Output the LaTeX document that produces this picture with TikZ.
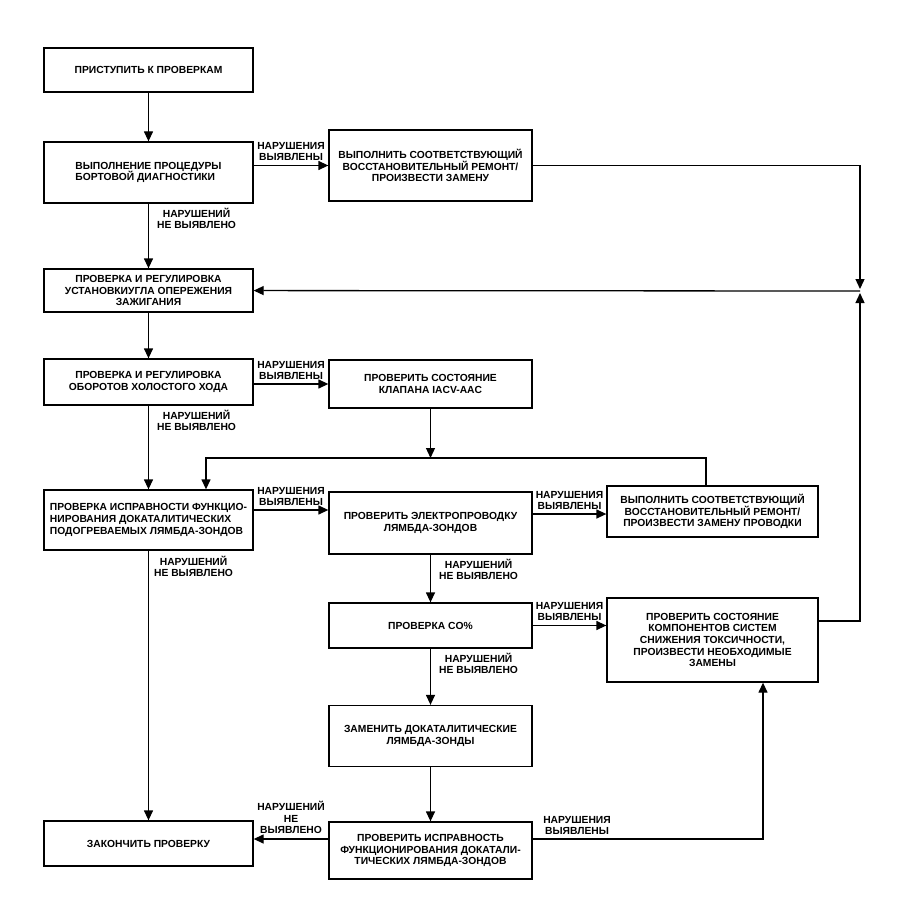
\documentclass[tikz,border=0pt]{standalone}
\usepackage{fontspec}
\setmainfont{Liberation Sans}
\usetikzlibrary{arrows.meta}

\tikzset{
  box/.style={draw, line width=1.3pt, align=center, inner sep=2pt,
    font=\bfseries\fontsize{10.3}{11.6}\selectfont},
  lcol/.style={minimum width=209pt},
  mcol/.style={minimum width=203pt},
  rcol/.style={minimum width=211pt},
  lbl/.style={align=center, inner sep=1pt,
    font=\bfseries\fontsize{10.3}{11.2}\selectfont},
  arr/.style={line width=1.3pt, -{Triangle[length=10pt,width=9pt]}},
  ln/.style={line width=1.3pt}
}

\begin{document}
\begin{tikzpicture}[x=1pt,y=-1pt]
  \useasboundingbox (0,0) rectangle (900,915);

  % left column
  \node[box, lcol, minimum height=44pt] (start) at (148.5,70) {ПРИСТУПИТЬ К ПРОВЕРКАМ};
  \node[box, lcol, minimum height=61pt, align=left] (obd) at (148.5,172.5) {ВЫПОЛНЕНИЕ ПРОЦЕДУРЫ\\БОРТОВОЙ ДИАГНОСТИКИ};
  \node[box, lcol, minimum height=43pt] (ign) at (148.5,290.5) {ПРОВЕРКА И РЕГУЛИРОВКА\\УСТАНОВКИУГЛА ОПЕРЕЖЕНИЯ\\ЗАЖИГАНИЯ};
  \node[box, lcol, minimum height=46pt] (idle) at (148.5,382) {ПРОВЕРКА И РЕГУЛИРОВКА\\ОБОРОТОВ ХОЛОСТОГО ХОДА};
  \node[box, lcol, minimum height=60pt, align=left] (lambda) at (148.5,520) {ПРОВЕРКА ИСПРАВНОСТИ ФУНКЦИО-\\НИРОВАНИЯ ДОКАТАЛИТИЧЕСКИХ\\ПОДОГРЕВАЕМЫХ ЛЯМБДА-ЗОНДОВ};
  \node[box, lcol, minimum height=45pt] (finish) at (148.5,843.5) {ЗАКОНЧИТЬ ПРОВЕРКУ};

  % middle column
  \node[box, mcol, minimum height=71pt] (repair1) at (430.5,165.5) {ВЫПОЛНИТЬ СООТВЕТСТВУЮЩИЙ\\ВОССТАНОВИТЕЛЬНЫЙ РЕМОНТ/\\ПРОИЗВЕСТИ ЗАМЕНУ};
  \node[box, mcol, minimum height=48pt] (iacv) at (430.5,384) {ПРОВЕРИТЬ СОСТОЯНИЕ\\КЛАПАНА IACV-AAC};
  \node[box, mcol, minimum height=62pt] (wiring) at (430.5,523) {ПРОВЕРИТЬ ЭЛЕКТРОПРОВОДКУ\\ЛЯМБДА-ЗОНДОВ};
  \node[box, mcol, minimum height=45pt] (co) at (430.5,625.5) {ПРОВЕРКА CO\%};
  \node[box, mcol, minimum height=61pt] (replace) at (430.5,736) {ЗАМЕНИТЬ ДОКАТАЛИТИЧЕСКИЕ\\ЛЯМБДА-ЗОНДЫ};
  \node[box, mcol, minimum height=57pt] (final) at (430.5,850.5) {ПРОВЕРИТЬ ИСПРАВНОСТЬ\\ФУНКЦИОНИРОВАНИЯ ДОКАТАЛИ-\\ТИЧЕСКИХ ЛЯМБДА-ЗОНДОВ};

  % right column
  \node[box, rcol, minimum height=51pt] (repair2) at (712.5,511.5) {ВЫПОЛНИТЬ СООТВЕТСТВУЮЩИЙ\\ВОССТАНОВИТЕЛЬНЫЙ РЕМОНТ/\\ПРОИЗВЕСТИ ЗАМЕНУ ПРОВОДКИ};
  \node[box, rcol, minimum height=84pt] (emis) at (712.5,640) {ПРОВЕРИТЬ СОСТОЯНИЕ\\КОМПОНЕНТОВ СИСТЕМ\\СНИЖЕНИЯ ТОКСИЧНОСТИ,\\ПРОИЗВЕСТИ НЕОБХОДИМЫЕ\\ЗАМЕНЫ};

  % junctions
  \coordinate (jn) at (860,291);
  \coordinate (je) at (860,621);
  \coordinate (jl) at (206,458);
  \coordinate (jr) at (706,458);
  \coordinate (jb) at (763,839);
  \coordinate (r1) at (0,510);
  \coordinate (r2) at (0,514);

  % main line
  \draw[arr] (start) -- (obd);
  \draw[arr] (obd) -- (ign)
    node[lbl, pos=0, anchor=north west, xshift=7pt, yshift=-3pt] (n1) {НАРУШЕНИЙ\\НЕ ВЫЯВЛЕНО};
  \draw[arr] (obd.east |- repair1) -- (repair1)
    node[lbl, midway, above, yshift=3pt] (y1) {НАРУШЕНИЯ\\ВЫЯВЛЕНЫ};
  \draw[arr] (repair1) -| ([yshift=2pt]jn);
  \draw[arr] (jn) -- (ign);
  \draw[arr] (ign) -- (idle);
  \draw[arr] (idle.east |- iacv) -- (iacv)
    node[lbl, midway, above, yshift=3pt] (y2) {НАРУШЕНИЯ\\ВЫЯВЛЕНЫ};
  \draw[arr] (idle) -- (lambda)
    node[lbl, pos=0, anchor=north west, xshift=7pt, yshift=-3pt] (n2) {НАРУШЕНИЙ\\НЕ ВЫЯВЛЕНО};
  \draw[arr] (iacv) -- (iacv.south |- jl);
  \draw[arr] (repair2.north -| jr) -- (jr) -- (jl) -- (jl |- lambda.north);

  % lambda sensors
  \draw[arr] (lambda.east |- r1) -- (wiring.west |- r1)
    node[lbl, midway, above, yshift=3pt] (y3) {НАРУШЕНИЯ\\ВЫЯВЛЕНЫ};
  \draw[arr] (lambda) -- (finish)
    node[lbl, pos=0, anchor=north west, xshift=4pt, yshift=-4pt] (n3) {НАРУШЕНИЙ\\НЕ ВЫЯВЛЕНО};
  \draw[arr] (wiring.east |- r2) -- (repair2.west |- r2)
    node[lbl, midway, above, yshift=3pt] (y4) {НАРУШЕНИЯ\\ВЫЯВЛЕНЫ};
  \draw[arr] (wiring) -- (co)
    node[lbl, pos=0, anchor=north west, xshift=7pt, yshift=-3pt] (n4) {НАРУШЕНИЙ\\НЕ ВЫЯВЛЕНО};
  \draw[arr] (co) -- (co -| emis.west)
    node[lbl, midway, above, yshift=3pt] (y5) {НАРУШЕНИЯ\\ВЫЯВЛЕНЫ};
  \draw[arr] (co) -- (replace)
    node[lbl, pos=0, anchor=north west, xshift=7pt, yshift=-3pt] (n5) {НАРУШЕНИЙ\\НЕ ВЫЯВЛЕНО};
  \draw[arr] (replace) -- (final);
  \draw[arr] (final.west |- jb) -- (finish.east |- jb)
    node[lbl, midway, above, yshift=4pt] (n6) {НАРУШЕНИЙ\\НЕ\\ВЫЯВЛЕНО};
  \draw[arr] (final.east |- jb) -- (jb)
    node[lbl, pos=0, anchor=south west, xshift=9pt, yshift=3pt] (y6) {НАРУШЕНИЯ\\ВЫЯВЛЕНЫ}
    -- (jb |- emis.south);
  \draw[arr] (emis.east |- je) -- (je) -- ([yshift=-2pt]jn);

\end{tikzpicture}
\end{document}
